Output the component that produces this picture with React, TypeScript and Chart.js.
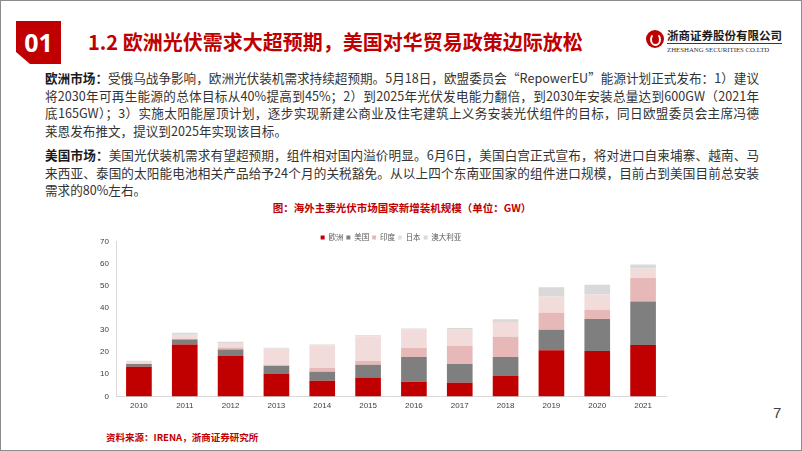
import React, { useEffect, useRef } from "react";
import { Chart, registerables } from "chart.js";

Chart.register(...registerables);

const years = ["2010", "2011", "2012", "2013", "2014", "2015", "2016", "2017", "2018", "2019", "2020", "2021"];
const europe = [13.4, 23.4, 18.3, 10.1, 7.1, 8.5, 6.6, 6.2, 9.2, 20.9, 20.5, 23.2];
const usa = [1.2, 2.3, 2.9, 3.7, 4.0, 5.8, 11.2, 8.4, 8.6, 9.2, 14.5, 19.7];
const india = [0.1, 0.3, 0.9, 0.3, 1.8, 1.7, 4.2, 8.3, 9.2, 7.7, 4.2, 10.6];
const japan = [1.0, 1.9, 1.7, 7.5, 10.2, 11.2, 8.3, 7.6, 6.6, 7.4, 6.9, 4.3];
const australia = [0.4, 0.9, 0.9, 0.4, 0.4, 0.4, 0.4, 0.4, 1.3, 4.1, 4.3, 1.8];
const seriesNames = ["欧洲", "美国", "印度", "日本", "澳大利亚"];
const seriesColors = ["#C00000", "#7F7F7F", "#E6B9B8", "#F2DCDB", "#D9D9D9"];
const yMax = 70;
const yStep = 10;

const RED = "#C00000";
const CJK = '"Noto Sans CJK SC", "Noto Sans", sans-serif';
const LEGEND_FONT = 7.5;
const LEGEND_PAD = 3;

const europeLines = [
  "受俄乌战争影响，欧洲光伏装机需求持续超预期。5月18日，欧盟委员会“RepowerEU”能源计划正式发布：1）建议",
  "将2030年可再生能源的总体目标从40%提高到45%；2）到2025年光伏发电能力翻倍，到2030年安装总量达到600GW（2021年",
  "底165GW）；3）实施太阳能屋顶计划，逐步实现新建公商业及住宅建筑上义务安装光伏组件的目标，同日欧盟委员会主席冯德",
  "莱恩发布推文，提议到2025年实现该目标。",
];
const usLines = [
  "美国光伏装机需求有望超预期，组件相对国内溢价明显。6月6日，美国白宫正式宣布，将对进口自柬埔寨、越南、马",
  "来西亚、泰国的太阳能电池相关产品给予24个月的关税豁免。从以上四个东南亚国家的组件进口规模，目前占到美国目前总安装",
  "需求的80%左右。",
];

const legendPlacer = {
  id: "legendPlacer",
  afterLayout(chart: any) {
    const lg = chart.legend;
    const ca = chart.chartArea;
    if (!lg || !ca) return;
    const dx = (ca.left + ca.right) / 2 - (lg.left + lg.right) / 2;
    const itemCenter = lg.top + LEGEND_PAD + LEGEND_FONT / 2;
    const dy = ca.top - 4 - itemCenter;
    lg.left += dx;
    lg.right += dx;
    lg.top += dy;
    lg.bottom += dy;
  },
};

function StackChart() {
  const ref = useRef<HTMLCanvasElement | null>(null);
  useEffect(() => {
    if (!ref.current) return;
    const values = [europe, usa, india, japan, australia];
    const chart = new Chart(ref.current, {
      type: "bar",
      data: {
        labels: years,
        datasets: seriesNames.map((n, i) => ({
          label: n,
          data: values[i],
          backgroundColor: seriesColors[i],
          borderWidth: 0,
          categoryPercentage: 1,
          barPercentage: 0.56,
        })),
      },
      plugins: [legendPlacer],
      options: {
        animation: false,
        responsive: false,
        maintainAspectRatio: false,
        layout: { padding: { left: 0, right: 20, top: 0, bottom: 0 } },
        plugins: {
          tooltip: { enabled: false },
          legend: {
            position: "top",
            align: "center",
            labels: {
              boxWidth: 4,
              boxHeight: 4,
              padding: LEGEND_PAD,
              color: "#595959",
              font: { size: LEGEND_FONT, family: CJK },
            },
          },
        },
        scales: {
          x: {
            stacked: true,
            grid: { display: false, drawTicks: false },
            border: { display: true, color: "#D9D9D9", width: 1 },
            ticks: { color: "#404040", font: { size: 8, family: "Liberation Sans, Arial, sans-serif" }, padding: 5 },
          },
          y: {
            stacked: true,
            min: 0,
            max: yMax,
            afterFit: (s: any) => {
              s.width = 40;
            },
            grid: { display: false, drawTicks: false },
            border: { display: true, color: "#D9D9D9", width: 1 },
            ticks: {
              stepSize: yStep,
              color: "#404040",
              font: { size: 8, family: "Liberation Sans, Arial, sans-serif" },
              padding: 7,
            },
          },
        },
      },
    });
    return () => chart.destroy();
  }, []);
  return <canvas ref={ref} width={610} height={195} style={{ position: "absolute", left: 75, top: 220, width: 610, height: 195 }} />;
}

function Logo() {
  return (
    <div style={{ position: "absolute", left: 645, top: 27 }}>
      <div
        style={{
          position: "absolute",
          left: 0,
          top: 2,
          width: 18,
          height: 18,
          borderRadius: "50%",
          background: RED,
        }}
      >
        <div
          style={{
            position: "absolute",
            left: 4,
            top: 3,
            width: 7,
            height: 9,
            border: "2px solid #fff",
            borderRadius: "50%",
            borderTopColor: "transparent",
          }}
        />
      </div>
      <div
        style={{
          position: "absolute",
          left: 21,
          top: 0,
          whiteSpace: "nowrap",
          fontFamily: CJK,
          fontSize: 11.5,
          fontWeight: 700,
          color: "#1a1a1a",
          lineHeight: "14px",
        }}
      >
        浙商证券股份有限公司
      </div>
      <div style={{ position: "absolute", left: 21, top: 15, width: 115, height: 1, background: RED }} />
      <div
        style={{
          position: "absolute",
          left: 21,
          top: 17,
          whiteSpace: "nowrap",
          fontFamily: '"Liberation Serif", "DejaVu Serif", serif',
          fontSize: 6.8,
          color: "#333",
          lineHeight: "9px",
        }}
      >
        ZHESHANG SECURITIES CO.LTD
      </div>
    </div>
  );
}

const LINE_H = 17.5;

function Paragraph({ top, label, lines }: { top: number; label: string; lines: string[] }) {
  return (
    <div style={{ position: "absolute", left: 44, top, width: 714 }}>
      {lines.map((ln, i) => {
        const last = i === lines.length - 1;
        return (
          <div
            key={i}
            style={{
              fontFamily: CJK,
              fontSize: 12.6,
              lineHeight: LINE_H + "px",
              height: LINE_H,
              color: "#333",
              textAlign: "justify",
              textAlignLast: last ? "left" : "justify",
            }}
          >
            {i === 0 ? <b style={{ color: "#1a1a1a" }}>{label}</b> : null}
            {ln}
          </div>
        );
      })}
    </div>
  );
}

export default function App() {
  return (
    <div
      style={{
        position: "absolute",
        left: 0,
        top: 0,
        width: 802,
        height: 451,
        background: "#fff",
        boxSizing: "border-box",
        border: "1px solid #8c8c8c",
        overflow: "hidden",
      }}
    >
      <div
        style={{
          position: "absolute",
          left: 15,
          top: 20,
          width: 45,
          height: 43,
          background: RED,
          clipPath: "polygon(0 0, 100% 0, 100% 100%, 14px 100%, 0 calc(100% - 12px))",
        }}
      />
      <div
        style={{
          position: "absolute",
          left: 15,
          top: 20,
          width: 45,
          height: 43,
          color: "#fff",
          fontFamily: '"Open Sans", "Liberation Sans", sans-serif',
          fontWeight: 700,
          fontSize: 25,
          lineHeight: "43px",
          textAlign: "center",
        }}
      >
        01
      </div>
      <div
        style={{
          position: "absolute",
          left: 87,
          top: 28,
          whiteSpace: "nowrap",
          color: RED,
          fontFamily: CJK,
          fontWeight: 700,
          fontSize: 20,
          lineHeight: "26px",
        }}
      >
        1.2 欧洲光伏需求大超预期，美国对华贸易政策边际放松
      </div>
      <Logo />

      <Paragraph top={68} label="欧洲市场：" lines={europeLines} />
      <Paragraph top={145} label="美国市场：" lines={usLines} />

      <div
        style={{
          position: "absolute",
          left: 0,
          width: 802,
          top: 200,
          textAlign: "center",
          color: RED,
          fontFamily: CJK,
          fontWeight: 700,
          fontSize: 10.5,
          lineHeight: "14px",
        }}
      >
        图：海外主要光伏市场国家新增装机规模（单位：GW）
      </div>

      <StackChart />

      <div
        style={{
          position: "absolute",
          left: 772,
          top: 403,
          fontFamily: '"Liberation Sans", Arial, sans-serif',
          fontSize: 15,
          color: "#404040",
          lineHeight: "18px",
        }}
      >
        7
      </div>
      <div
        style={{
          position: "absolute",
          left: 105,
          top: 429,
          whiteSpace: "nowrap",
          color: RED,
          fontFamily: CJK,
          fontWeight: 700,
          fontSize: 9.5,
          lineHeight: "14px",
        }}
      >
        资料来源：IRENA，浙商证券研究所
      </div>
    </div>
  );
}
